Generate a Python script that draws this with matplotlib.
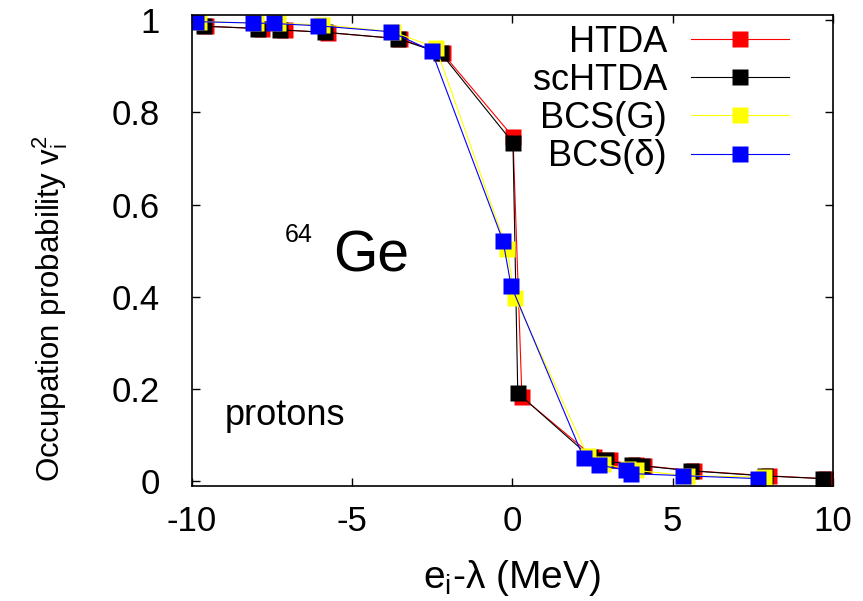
import numpy as np
import matplotlib
matplotlib.use("Agg")
import matplotlib.pyplot as plt

plt.rcParams['font.family'] = ['Liberation Sans', 'DejaVu Sans']
plt.rcParams['mathtext.fontset'] = 'custom'
plt.rcParams['mathtext.rm'] = 'Liberation Sans'
plt.rcParams['mathtext.it'] = 'Liberation Sans'
plt.rcParams['axes.unicode_minus'] = False

# HTDA
x_htda = [-9.56, -7.80, -7.09, -5.75, -3.51, -2.17, 0.02, 0.30,
          2.54, 3.04, 3.85, 4.12, 5.66, 8.00, 9.79]
y_htda = [0.987, 0.982, 0.979, 0.973, 0.960, 0.928, 0.747, 0.182,
          0.052, 0.0445, 0.035, 0.033, 0.022, 0.011, 0.005]
# scHTDA
x_sc = [-9.62, -7.94, -7.26, -5.85, -3.57, -2.22, 0.02, 0.17,
        2.43, 2.92, 3.72, 4.03, 5.56, 7.87, 9.69]
y_sc = [0.987, 0.982, 0.979, 0.974, 0.960, 0.928, 0.734, 0.191,
        0.052, 0.0445, 0.034, 0.033, 0.022, 0.011, 0.005]
# BCS(G)
x_bg = [-9.78, -7.99, -7.32, -5.93, -3.72, -2.38, -0.17, 0.08,
        2.35, 2.83, 3.60, 3.85, 5.45, 7.84]
y_bg = [0.997, 0.994, 0.993, 0.990, 0.975, 0.940, 0.504, 0.398,
        0.054, 0.037, 0.026, 0.023, 0.0115, 0.008]
# BCS(delta)
x_bd = [-9.88, -8.10, -7.44, -6.07, -3.79, -2.52, -0.29, -0.04,
        2.22, 2.69, 3.54, 3.71, 5.31, 7.67]
y_bd = [0.997, 0.994, 0.993, 0.988, 0.975, 0.934, 0.521, 0.424,
        0.0506, 0.035, 0.023, 0.016, 0.0115, 0.005]

fig = plt.figure(figsize=(8.63, 6.01), dpi=100)
ax = fig.add_axes([0.2221, 0.1913, 0.9652 - 0.2221, 0.9755 - 0.1913])

ms = 11.5
ax.plot(x_htda, y_htda, color='red', lw=0.8, marker='s', ms=ms, mec='none', label='HTDA')
ax.plot(x_sc, y_sc, color='black', lw=0.8, marker='s', ms=ms, mec='none', label='scHTDA')
ax.plot(x_bg, y_bg, color='yellow', lw=0.8, marker='s', ms=ms, mec='none', label='BCS(G)')
ax.plot(x_bd, y_bd, color='blue', lw=0.8, marker='s', ms=ms, mec='none', label='BCS(δ)')

ax.set_xlim(-10, 10)
ax.set_ylim(-0.011, 1.012)
ax.set_xticks([-10, -5, 0, 5, 10])
ax.set_yticks([0, 0.2, 0.4, 0.6, 0.8, 1])
ax.set_yticklabels(['0', '0.2', '0.4', '0.6', '0.8', '1'])
ax.tick_params(direction='in', length=6, width=1, top=True, right=True,
               labelsize=25)
ax.tick_params(axis='x', pad=14)
ax.tick_params(axis='y', pad=23)
for s in ax.spines.values():
    s.set_linewidth(1.2)

ax.set_xlabel(r'e$_\mathrm{i}$-λ (MeV)', fontsize=28, labelpad=14)
ax.set_ylabel(r'Occupation probability v$_\mathrm{i}^\mathrm{2}$', fontsize=22.5)
ax.yaxis.set_label_coords(-0.19, 0.376)

ax.text(-6.22, 0.519, '64', fontsize=18, ha='right', va='baseline')
ax.text(-5.59, 0.454, 'Ge', fontsize=41, ha='left', va='baseline')
ax.text(-7.09, 0.143, 'protons', fontsize=26, ha='center', va='center')

ax.legend(loc='upper right', bbox_to_anchor=(0.931, 0.979), markerfirst=False,
          frameon=False, fontsize=26, handlelength=2.7, handletextpad=0.67,
          labelspacing=0.09, borderpad=0, borderaxespad=0, numpoints=1)

fig.savefig('out.png', dpi=100)
